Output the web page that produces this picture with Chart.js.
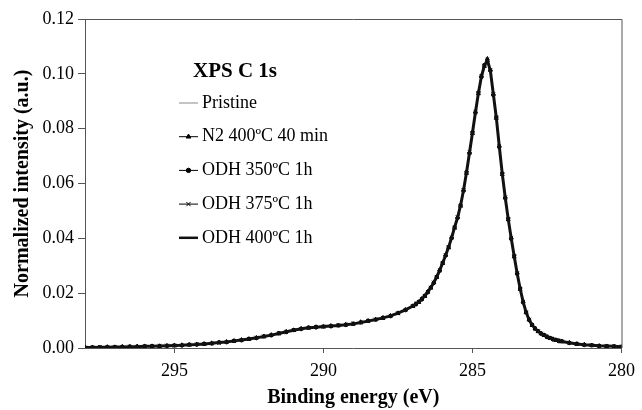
<!DOCTYPE html>
<html>
<head>
<meta charset="utf-8">
<script src="https://cdn.jsdelivr.net/npm/chart.js@4.4.1/dist/chart.umd.min.js"></script>
<style>
  body { margin: 0; background: #fff; }
</style>
</head>
<body>
<canvas id="xpsChart" width="642" height="410"></canvas>
<script>
// binding energies (eV), coarse on the tails, fine over the C 1s peak
const energies = [
  298, 297.75, 297.5, 297.25, 297, 296.75, 296.5, 296.25, 296, 295.75,
  295.5, 295.25, 295, 294.75, 294.5, 294.25, 294, 293.75, 293.5, 293.25,
  293, 292.75, 292.5, 292.25, 292, 291.75, 291.5, 291.25, 291, 290.75,
  290.5, 290.25, 290, 289.75, 289.5, 289.25, 289, 288.75, 288.5, 288.25,
  288, 287.75, 287.5, 287.25, 287,
  286.9, 286.8, 286.7, 286.6, 286.5, 286.4, 286.3, 286.2, 286.1, 286.0,
  285.9, 285.8, 285.7, 285.6, 285.5, 285.4, 285.3, 285.2, 285.1, 285.0,
  284.9, 284.8, 284.7, 284.6, 284.5, 284.4, 284.3, 284.2, 284.1, 284.0,
  283.9, 283.8, 283.7, 283.6, 283.5, 283.4, 283.3, 283.2, 283.1, 283.0,
  282.9, 282.8, 282.7, 282.6, 282.5, 282.4, 282.3, 282.2, 282.1, 282.0,
  281.75, 281.5, 281.25, 281, 280.75, 280.5, 280.25, 280
];

const pristine = [
  0.0002, 0.0001, 0.0003, 0.0002, 0.0004, 0.0003, 0.0005, 0.0004, 0.0006, 0.0005,
  0.0007, 0.0008, 0.0009, 0.0010, 0.0012, 0.0013, 0.0015, 0.0017, 0.0020, 0.0022,
  0.0026, 0.0029, 0.0033, 0.0037, 0.0042, 0.0047, 0.0053, 0.0059, 0.0065, 0.0070,
  0.0074, 0.0076, 0.0078, 0.0080, 0.0082, 0.0085, 0.0088, 0.0094, 0.0099, 0.0104,
  0.0110, 0.0117, 0.0127, 0.0139, 0.0153,
  0.0160, 0.0168, 0.0178, 0.0190, 0.0204, 0.0220, 0.0238, 0.0259, 0.0283, 0.0310,
  0.0338, 0.0368, 0.0402, 0.0440, 0.0478, 0.0524, 0.0580, 0.0646, 0.0718, 0.0792,
  0.0866, 0.0936, 0.0995, 0.1035, 0.1045, 0.1005, 0.0920, 0.0835, 0.0730, 0.0632,
  0.0545, 0.0468, 0.0398, 0.0333, 0.0271, 0.0215, 0.0167, 0.0129, 0.0102, 0.0083,
  0.0070, 0.0060, 0.0052, 0.0046, 0.0040, 0.0035, 0.0031, 0.0028, 0.0025, 0.0023,
  0.0018, 0.0014, 0.0011, 0.0009, 0.0007, 0.0006, 0.0005, 0.0004
];

const n2_400 = [
  0.0003, 0.0002, 0.0002, 0.0004, 0.0003, 0.0005, 0.0004, 0.0006, 0.0005, 0.0007,
  0.0006, 0.0009, 0.0008, 0.0011, 0.0011, 0.0014, 0.0014, 0.0018, 0.0019, 0.0023,
  0.0025, 0.0030, 0.0032, 0.0038, 0.0041, 0.0048, 0.0052, 0.0060, 0.0064, 0.0071,
  0.0073, 0.0077, 0.0077, 0.0081, 0.0081, 0.0086, 0.0087, 0.0095, 0.0098, 0.0105,
  0.0109, 0.0118, 0.0126, 0.0140, 0.0152,
  0.0161, 0.0167, 0.0180, 0.0189, 0.0206, 0.0219, 0.0240, 0.0258, 0.0285, 0.0309,
  0.0340, 0.0366, 0.0404, 0.0438, 0.0478, 0.0518, 0.0578, 0.0638, 0.0715, 0.0783,
  0.0863, 0.0928, 0.0994, 0.1028, 0.1055, 0.1015, 0.0928, 0.0838, 0.0738, 0.0633,
  0.0551, 0.0468, 0.0403, 0.0333, 0.0275, 0.0214, 0.0170, 0.0129, 0.0105, 0.0083,
  0.0072, 0.0060, 0.0054, 0.0046, 0.0042, 0.0035, 0.0033, 0.0028, 0.0027, 0.0023,
  0.0020, 0.0014, 0.0013, 0.0009, 0.0008, 0.0006, 0.0006, 0.0004
];

const odh350 = [
  0.0001, 0.0003, 0.0002, 0.0003, 0.0004, 0.0004, 0.0006, 0.0005, 0.0007, 0.0006,
  0.0008, 0.0007, 0.0010, 0.0009, 0.0013, 0.0012, 0.0016, 0.0016, 0.0021, 0.0021,
  0.0027, 0.0028, 0.0034, 0.0036, 0.0043, 0.0046, 0.0054, 0.0058, 0.0066, 0.0069,
  0.0075, 0.0075, 0.0079, 0.0079, 0.0083, 0.0084, 0.0089, 0.0093, 0.0100, 0.0103,
  0.0111, 0.0116, 0.0128, 0.0138, 0.0154,
  0.0159, 0.0169, 0.0177, 0.0191, 0.0203, 0.0221, 0.0237, 0.0260, 0.0282, 0.0311,
  0.0337, 0.0369, 0.0401, 0.0441, 0.0474, 0.0521, 0.0573, 0.0642, 0.0710, 0.0787,
  0.0858, 0.0932, 0.0988, 0.1032, 0.1046, 0.1012, 0.0922, 0.0842, 0.0733, 0.0637,
  0.0546, 0.0472, 0.0398, 0.0337, 0.0270, 0.0218, 0.0166, 0.0131, 0.0102, 0.0085,
  0.0070, 0.0062, 0.0052, 0.0048, 0.0040, 0.0037, 0.0031, 0.0030, 0.0025, 0.0025,
  0.0018, 0.0016, 0.0011, 0.0010, 0.0007, 0.0007, 0.0005, 0.0005
];

const odh375 = [
  0.0002, 0.0002, 0.0004, 0.0003, 0.0003, 0.0004, 0.0005, 0.0005, 0.0006, 0.0007,
  0.0007, 0.0009, 0.0009, 0.0010, 0.0012, 0.0014, 0.0015, 0.0017, 0.0019, 0.0022,
  0.0026, 0.0029, 0.0033, 0.0038, 0.0042, 0.0047, 0.0054, 0.0058, 0.0066, 0.0070,
  0.0073, 0.0077, 0.0078, 0.0080, 0.0083, 0.0085, 0.0089, 0.0093, 0.0098, 0.0104,
  0.0109, 0.0118, 0.0126, 0.0139, 0.0152,
  0.0162, 0.0168, 0.0179, 0.0190, 0.0205, 0.0220, 0.0239, 0.0259, 0.0284, 0.0310,
  0.0339, 0.0367, 0.0403, 0.0439, 0.0477, 0.0519, 0.0576, 0.0639, 0.0713, 0.0784,
  0.0861, 0.0929, 0.0992, 0.1030, 0.1052, 0.1014, 0.0926, 0.0841, 0.0736, 0.0634,
  0.0549, 0.0470, 0.0401, 0.0334, 0.0273, 0.0215, 0.0169, 0.0130, 0.0104, 0.0084,
  0.0071, 0.0061, 0.0053, 0.0047, 0.0041, 0.0036, 0.0032, 0.0029, 0.0026, 0.0024,
  0.0019, 0.0015, 0.0012, 0.0010, 0.0008, 0.0007, 0.0006, 0.0005
];

const odh400 = [
  0.0002, 0.0002, 0.0003, 0.0003, 0.0004, 0.0004, 0.0005, 0.0005, 0.0006, 0.0006,
  0.0007, 0.0008, 0.0009, 0.0010, 0.0012, 0.0013, 0.0015, 0.0017, 0.0020, 0.0022,
  0.0026, 0.0029, 0.0033, 0.0037, 0.0042, 0.0047, 0.0053, 0.0059, 0.0065, 0.0070,
  0.0074, 0.0076, 0.0078, 0.0080, 0.0082, 0.0085, 0.0088, 0.0093, 0.0098, 0.0104,
  0.0110, 0.0117, 0.0127, 0.0139, 0.0153,
  0.0160, 0.0168, 0.0178, 0.0190, 0.0204, 0.0220, 0.0238, 0.0259, 0.0283, 0.0310,
  0.0338, 0.0368, 0.0402, 0.0440, 0.0476, 0.0520, 0.0575, 0.0640, 0.0712, 0.0785,
  0.0860, 0.0930, 0.0990, 0.1030, 0.1050, 0.1012, 0.0926, 0.0840, 0.0735, 0.0635,
  0.0548, 0.0470, 0.0400, 0.0335, 0.0272, 0.0216, 0.0168, 0.0130, 0.0103, 0.0084,
  0.0071, 0.0061, 0.0053, 0.0047, 0.0041, 0.0036, 0.0032, 0.0029, 0.0026, 0.0024,
  0.0019, 0.0015, 0.0012, 0.0010, 0.0008, 0.0007, 0.0006, 0.0005
];

const seriesNames = ["Pristine", "N2 400ºC 40 min", "ODH 350ºC 1h", "ODH 375ºC 1h", "ODH 400ºC 1h"];
const xTicks = [295, 290, 285, 280];

const serif = "'Liberation Serif', 'Times New Roman', serif";

const toPoints = (vals) => energies.map((e, i) => ({ x: e, y: vals[i] }));

// legend drawn inside the plot + top/right frame lines
const legendBox = {
  id: "legendBox",
  afterDraw(chart) {
    const ctx = chart.ctx;
    const area = chart.chartArea;
    ctx.save();

    ctx.strokeStyle = "#555";
    ctx.lineWidth = 1;
    ctx.beginPath();
    ctx.moveTo(area.left, area.top + 0.5);
    ctx.lineTo(area.right + 0.5, area.top + 0.5);
    ctx.lineTo(area.right + 0.5, area.bottom);
    ctx.stroke();

    ctx.fillStyle = "#000";
    ctx.textBaseline = "middle";
    ctx.font = "bold 21px " + serif;
    ctx.fillText("XPS C 1s", 193, 72);

    ctx.font = "18px " + serif;
    chart.data.datasets.forEach((ds, i) => {
      const y = 103 + i * 33.7;
      ctx.strokeStyle = ds.borderColor;
      ctx.lineWidth = Math.min(ds.borderWidth, 2.5);
      ctx.beginPath();
      ctx.moveTo(179, y);
      ctx.lineTo(198, y);
      ctx.stroke();
      if (ds.pointRadius > 0) {
        ctx.fillStyle = "#000";
        ctx.strokeStyle = "#000";
        ctx.lineWidth = 1;
        Chart.helpers.drawPoint(ctx, {
          pointStyle: ds.pointStyle,
          radius: ds.pointRadius + 0.5,
          rotation: 0,
          borderWidth: 1,
        }, 188.5, y);
      }
      ctx.fillStyle = "#000";
      ctx.fillText(ds.label, 202, y);
    });
    ctx.restore();
  },
};

new Chart(document.getElementById("xpsChart"), {
  type: "line",
  data: {
    datasets: [
      {
        label: seriesNames[0],
        data: toPoints(pristine),
        borderColor: "#8a8a8a",
        borderWidth: 1,
        pointRadius: 0,
        order: 5,
      },
      {
        label: seriesNames[1],
        data: toPoints(n2_400),
        borderColor: "#000",
        borderWidth: 1,
        pointStyle: "triangle",
        pointRadius: 2.2,
        pointBackgroundColor: "#000",
        pointBorderColor: "#000",
        order: 4,
      },
      {
        label: seriesNames[2],
        data: toPoints(odh350),
        borderColor: "#000",
        borderWidth: 1,
        pointStyle: "circle",
        pointRadius: 1.7,
        pointBackgroundColor: "#000",
        pointBorderColor: "#000",
        order: 3,
      },
      {
        label: seriesNames[3],
        data: toPoints(odh375),
        borderColor: "#000",
        borderWidth: 1,
        pointStyle: "crossRot",
        pointRadius: 2.5,
        pointBorderColor: "#000",
        order: 2,
      },
      {
        label: seriesNames[4],
        data: toPoints(odh400),
        borderColor: "#111",
        borderWidth: 3,
        pointRadius: 0,
        order: 1,
      },
    ],
  },
  options: {
    responsive: false,
    animation: false,
    layout: { padding: { top: 19, right: 16, left: 0, bottom: 0 } },
    plugins: {
      legend: { display: false },
      tooltip: { enabled: false },
    },
    scales: {
      x: {
        type: "linear",
        reverse: true,
        min: 280,
        max: 298,
        afterBuildTicks: (scale) => {
          scale.ticks = xTicks.map((v) => ({ value: v }));
        },
        afterFit: (scale) => {
          scale.height = 62;
        },
        grid: { drawOnChartArea: false, tickLength: 5, color: "#555" },
        border: { color: "#555" },
        ticks: {
          color: "#000",
          font: { family: serif, size: 18 },
          padding: 7,
          maxRotation: 0,
        },
        title: {
          display: true,
          text: "Binding energy (eV)",
          color: "#000",
          font: { family: serif, size: 20, weight: "bold" },
          padding: 0,
        },
      },
      y: {
        min: 0,
        max: 0.12,
        afterFit: (scale) => {
          scale.width = 85;
        },
        grid: { drawOnChartArea: false, tickLength: 7, color: "#555" },
        border: { color: "#555" },
        ticks: {
          stepSize: 0.02,
          color: "#000",
          font: { family: serif, size: 18 },
          padding: 4,
          callback: (v) => v.toFixed(2),
        },
        title: {
          display: true,
          text: "Normalized intensity (a.u.)",
          color: "#000",
          font: { family: serif, size: 20, weight: "bold" },
          padding: { top: 11, bottom: 0 },
        },
      },
    },
  },
  plugins: [legendBox],
});
</script>
</body>
</html>
